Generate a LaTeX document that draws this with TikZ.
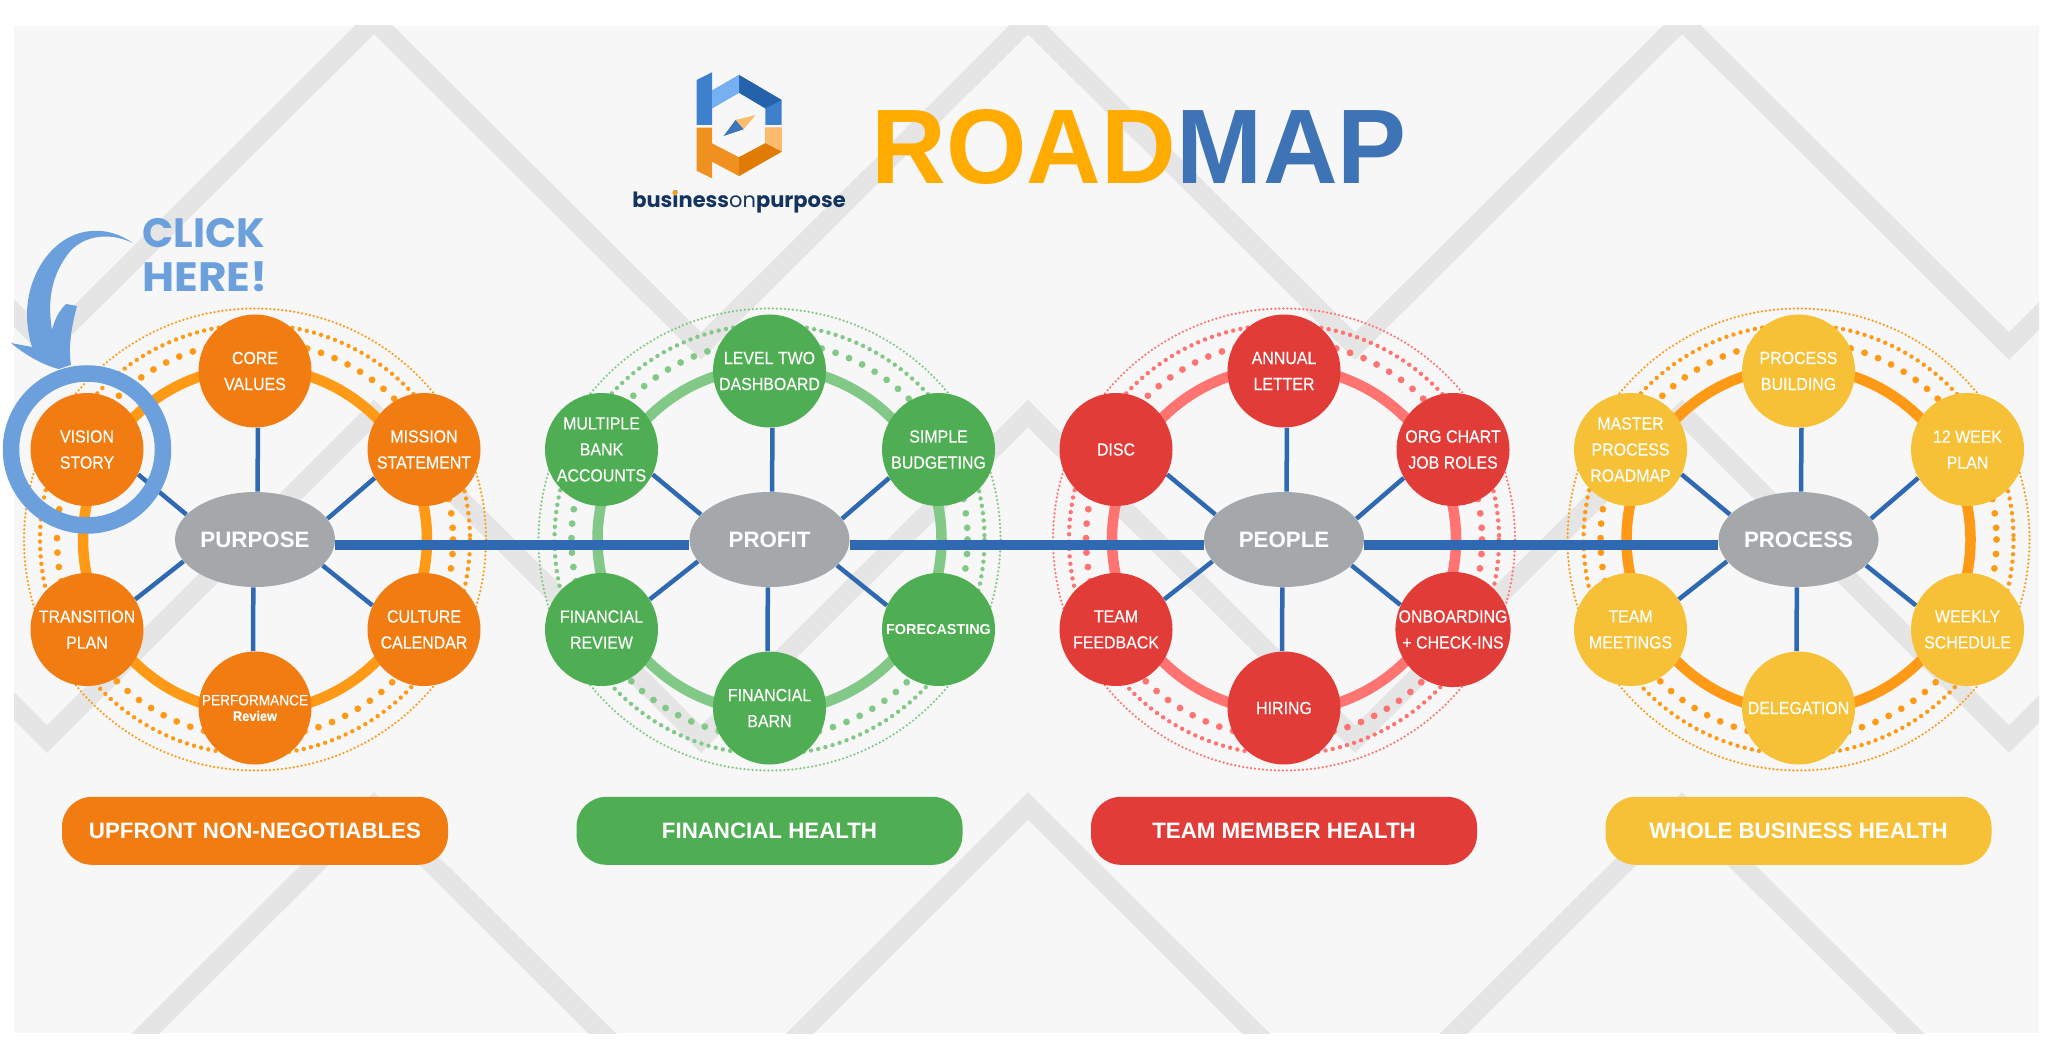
\documentclass[tikz,border=0pt]{standalone}
\usepackage{fontspec}
\setmainfont{Liberation Sans}
\newfontfamily\narrowfont[FakeStretch=0.91, FakeBold=0.25]{Liberation Sans}
\newfontfamily\titlefont[FakeStretch=0.975]{Liberation Sans}
\newfontfamily\brandfont{Poppins}
\usetikzlibrary{arrows.meta, positioning, calc, shapes.geometric}
\definecolor{panelgrey}{HTML}{F7F7F7}
\definecolor{bandgrey}{HTML}{E5E5E5}
\definecolor{hubgrey}{HTML}{A5A8AA}
\definecolor{linkblue}{HTML}{2F69B1}
\definecolor{clickblue}{HTML}{6CA0DC}
\definecolor{satorange}{HTML}{F17C12}
\definecolor{satgreen}{HTML}{4FAE54}
\definecolor{satred}{HTML}{E23C39}
\definecolor{satyellow}{HTML}{F6C136}
\definecolor{ringorange}{HTML}{FF9A17}
\definecolor{ringgreen}{HTML}{82C886}
\definecolor{ringred}{HTML}{FF7470}
\definecolor{titleorange}{HTML}{FFAB00}
\definecolor{titleblue}{HTML}{3E73B6}
\definecolor{brandnavy}{HTML}{14345F}
\definecolor{logoblue}{HTML}{3F80CC}
\definecolor{logobluedark}{HTML}{2462AC}
\definecolor{logobluelight}{HTML}{74B0F2}
\definecolor{logoorange}{HTML}{F09020}
\definecolor{logoorangedark}{HTML}{E07C06}
\definecolor{logoorangelight}{HTML}{FDBB6E}

\begin{document}
\begin{tikzpicture}[
    x=0.5pt, y=-0.5pt,
    band/.style={draw=bandgrey, line width=9.75pt, line join=miter},
    ringa/.style={draw=#1, line width=5.25pt},
    ringb/.style={draw=#1, line width=3.4pt, line cap=round, dash pattern=on 0pt off 7.25pt},
    ringc/.style={draw=#1, line width=2.2pt, line cap=round, dash pattern=on 0pt off 3.7pt},
    ringd/.style={draw=#1, line width=1.25pt, line cap=round, dash pattern=on 0pt off 2pt},
    hub/.style={
      ellipse, fill=hubgrey, text=white, inner sep=0pt,
      minimum width=80pt, minimum height=47.5pt,
      font=\bfseries\fontsize{11.15}{13}\selectfont
    },
    sat/.style={
      circle, fill=#1, text=white, inner sep=0pt, minimum size=56.5pt,
      align=center, font=\narrowfont\fontsize{8.75}{13}\selectfont
    },
    pill/.style={
      rectangle, rounded corners=15pt, fill=#1, text=white, inner sep=0pt,
      minimum width=193pt, minimum height=34pt,
      font=\bfseries\fontsize{11.15}{13}\selectfont
    },
    spoke/.style={draw=linkblue, line width=2.25pt},
    mainlink/.style={draw=linkblue, line width=5pt},
    bigtitle/.style={inner sep=0pt, font=\titlefont\bfseries\fontsize{53}{53}\selectfont},
  ]

  \useasboundingbox (0,0) rectangle (2048,1058);

  % Panel and the grey zigzag bands behind everything
  \fill[panelgrey] (14,26) rectangle (2039,1033);
  \begin{scope}
    \clip (14,26) rectangle (2039,1033);
    \draw[band] (-280,19) -- (47,346) -- (374,20.5) -- (701,346) -- (1028,20.5) -- (1355,346) -- (1682,20.5) -- (2009,346) -- (2336,19);
    \draw[band] (-280,412) -- (47,739) -- (374,413.5) -- (701,739) -- (1028,413.5) -- (1355,739) -- (1682,413.5) -- (2009,739) -- (2336,412);
    \draw[band] (47,1132) -- (374,806) -- (701,1132) -- (1028,806) -- (1355,1132) -- (1682,806) -- (2009,1132);
  \end{scope}

  % Rings round each hub
  \draw[ringa=ringorange] (255,539.5) circle [radius=172];
  \draw[ringb=ringorange] (255,539.5) circle [radius=198];
  \draw[ringc=ringorange] (255,539.5) circle [radius=215];
  \draw[ringd=ringorange] (255,539.5) circle [radius=231];

  \draw[ringa=ringgreen] (769.5,539.5) circle [radius=172];
  \draw[ringb=ringgreen] (769.5,539.5) circle [radius=198];
  \draw[ringc=ringgreen] (769.5,539.5) circle [radius=215];
  \draw[ringd=ringgreen] (769.5,539.5) circle [radius=231];

  \draw[ringa=ringred] (1284,539.5) circle [radius=172];
  \draw[ringb=ringred] (1284,539.5) circle [radius=198];
  \draw[ringc=ringred] (1284,539.5) circle [radius=215];
  \draw[ringd=ringred] (1284,539.5) circle [radius=231];

  \draw[ringa=ringorange] (1798.5,539.5) circle [radius=172];
  \draw[ringb=ringorange] (1798.5,539.5) circle [radius=198];
  \draw[ringc=ringorange] (1798.5,539.5) circle [radius=215];
  \draw[ringd=ringorange] (1798.5,539.5) circle [radius=231];

  % Hubs
  \node[hub] (purpose) at (255,539.5) {PURPOSE};
  \node[hub] (profit)  at (769.5,539.5) {PROFIT};
  \node[hub] (people)  at (1284,539.5) {PEOPLE};
  \node[hub] (process) at (1798.5,539.5) {PROCESS};

  % Purpose wheel
  \node[sat=satorange] (core)       at ($(purpose)+(0,-168.5)$) {CORE\\VALUES};
  \node[sat=satorange] (mission)    at ($(purpose)+(169,-90)$) {MISSION\\STATEMENT};
  \node[sat=satorange] (culture)    at ($(purpose)+(169,90)$) {CULTURE\\CALENDAR};
  \node[sat=satorange, font=\narrowfont\fontsize{7.5}{7.8}\selectfont] (perf) at ($(purpose)+(0,168.5)$) {PERFORMANCE\\{\bfseries\fontsize{7}{7.8}\selectfont Review}};
  \node[sat=satorange] (transition) at ($(purpose)+(-168,90)$) {TRANSITION\\PLAN};
  \node[sat=satorange] (vision)     at ($(purpose)+(-168,-90)$) {VISION\\STORY};

  % Profit wheel
  \node[sat=satgreen] (level)     at ($(profit)+(0,-168.5)$) {LEVEL TWO\\DASHBOARD};
  \node[sat=satgreen] (simple)    at ($(profit)+(169,-90)$) {SIMPLE\\BUDGETING};
  \node[sat=satgreen, font=\bfseries\fontsize{7.2}{9}\selectfont] (forecast) at ($(profit)+(169,90)$) {FORECASTING};
  \node[sat=satgreen] (barn)      at ($(profit)+(0,168.5)$) {FINANCIAL\\BARN};
  \node[sat=satgreen] (finreview) at ($(profit)+(-168,90)$) {FINANCIAL\\REVIEW};
  \node[sat=satgreen] (multibank) at ($(profit)+(-168,-90)$) {MULTIPLE\\BANK\\ACCOUNTS};

  % People wheel
  \node[sat=satred] (annual)   at ($(people)+(0,-168.5)$) {ANNUAL\\LETTER};
  \node[sat=satred] (orgchart) at ($(people)+(169,-90)$) {ORG CHART\\JOB ROLES};
  \node[sat=satred] (onboard)  at ($(people)+(169,90)$) {ONBOARDING\\+ CHECK-INS};
  \node[sat=satred] (hiring)   at ($(people)+(0,168.5)$) {HIRING};
  \node[sat=satred] (feedback) at ($(people)+(-168,90)$) {TEAM\\FEEDBACK};
  \node[sat=satred] (disc)     at ($(people)+(-168,-90)$) {DISC};

  % Process wheel
  \node[sat=satyellow] (building)   at ($(process)+(0,-168.5)$) {PROCESS\\BUILDING};
  \node[sat=satyellow] (weekplan)   at ($(process)+(169,-90)$) {12 WEEK\\PLAN};
  \node[sat=satyellow] (schedule)   at ($(process)+(169,90)$) {WEEKLY\\SCHEDULE};
  \node[sat=satyellow] (delegation) at ($(process)+(0,168.5)$) {DELEGATION};
  \node[sat=satyellow] (meetings)   at ($(process)+(-168,90)$) {TEAM\\MEETINGS};
  \node[sat=satyellow] (master)     at ($(process)+(-168,-90)$) {MASTER\\PROCESS\\ROADMAP};

  % Spokes, hub to satellite
  \draw[spoke] (purpose.87) -- (core.-87) (purpose.16) -- (mission.210) (purpose.-21) -- (culture.155)
    (purpose.-92) -- (perf.92) (purpose.197) -- (transition.32) (purpose.160) -- (vision.-26);
  \draw[spoke] (profit.87) -- (level.-87) (profit.16) -- (simple.210) (profit.-21) -- (forecast.155)
    (profit.-92) -- (barn.92) (profit.197) -- (finreview.32) (profit.160) -- (multibank.-26);
  \draw[spoke] (people.87) -- (annual.-87) (people.16) -- (orgchart.210) (people.-21) -- (onboard.155)
    (people.-92) -- (hiring.92) (people.197) -- (feedback.32) (people.160) -- (disc.-26);
  \draw[spoke] (process.87) -- (building.-87) (process.16) -- (weekplan.210) (process.-21) -- (schedule.155)
    (process.-92) -- (delegation.92) (process.197) -- (meetings.32) (process.160) -- (master.-26);

  % Main line, hub to hub
  \draw[mainlink] ([yshift=-2.5pt] purpose.east) -- ([yshift=-2.5pt] profit.west);
  \draw[mainlink] ([yshift=-2.5pt] profit.east) -- ([yshift=-2.5pt] people.west);
  \draw[mainlink] ([yshift=-2.5pt] people.east) -- ([yshift=-2.5pt] process.west);

  % Pills below the wheels
  \node[pill=satorange, below=104.5pt of purpose] (upfront) {UPFRONT NON-NEGOTIABLES};
  \node[pill=satgreen, below=104.5pt of profit] (financial) {FINANCIAL HEALTH};
  \node[pill=satred, below=104.5pt of people] (team) {TEAM MEMBER HEALTH};
  \node[pill=satyellow, below=104.5pt of process] (whole) {WHOLE BUSINESS HEALTH};

  % Click here marker
  \draw[clickblue, line width=8.25pt] (vision) circle [radius=76];
  \fill[clickblue] (133,243) .. controls (118,233) and (105,230) .. (92,231)
    .. controls (55,233) and (27,272) .. (27,315)
    .. controls (27,325) and (29,338) .. (32,347) -- (11,343)
    .. controls (25,355) and (45,366) .. (59,369) -- (71,365)
    .. controls (68,345) and (72,325) .. (77,306) -- (66,304)
    .. controls (60,310) and (55,318) .. (52,330)
    .. controls (47,300) and (52,275) .. (68,254)
    .. controls (80,238) and (105,230) .. (133,243) -- cycle;
  \node[text=clickblue, inner sep=0pt, align=left, font=\brandfont\bfseries\fontsize{20.5}{21.7}\selectfont] (click) at (205,255) {CLICK\\\addfontfeature{FakeStretch=1.07}HERE!};

  % Logo
  \fill[logoblue] (696.5,80) -- (712,72.3) -- (712,90.7) -- (739,75) -- (781.6,100) -- (781.6,125) -- (765.3,125) -- (765.3,108.3) -- (739,92.7) -- (712,108.3) -- (712,125) -- (696.5,125) -- cycle;
  \fill[logobluedark] (739,75) -- (781.6,100) -- (765.3,108.3) -- (739,92.7) -- cycle;
  \fill[logobluelight] (712,90.7) -- (739,75) -- (739,92.7) -- (712,108.3) -- cycle;
  \fill[logoorange] (696.5,127.7) -- (712,127.7) -- (712,143.3) -- (739,157.3) -- (765.3,143.3) -- (765.3,127.7) -- (781.6,127.7) -- (781.6,151.7) -- (739,176) -- (712,161.7) -- (712,178.3) -- (696.5,170.7) -- cycle;
  \fill[logoorangelight] (765.3,127.7) -- (781.6,127.7) -- (781.6,151.7) -- (765.3,143.3) -- cycle;
  \fill[logoorangedark] (739,157.3) -- (765.3,143.3) -- (781.6,151.7) -- (739,176) -- cycle;
  \fill[logoorangelight] (755.6,115) -- (735.5,120) -- (743.6,129.3) -- cycle;
  \fill[titleblue] (723.6,136) -- (735.5,120) -- (743.6,129.3) -- cycle;
  \node[anchor=base, inner sep=0pt, text=brandnavy, font=\brandfont\fontsize{10.5}{13}\selectfont] (brand) at (739,208) {\textbf{business}on\textbf{purpose}};
  \fill[ringorange] (675,192.7) circle [radius=2.6];

  % Title
  \node[bigtitle, text=titleorange, anchor=base] (road) at (1024,184) {ROAD};
  \node[bigtitle, text=titleblue, base right=0pt of road] (map) {MAP};

\end{tikzpicture}
\end{document}
